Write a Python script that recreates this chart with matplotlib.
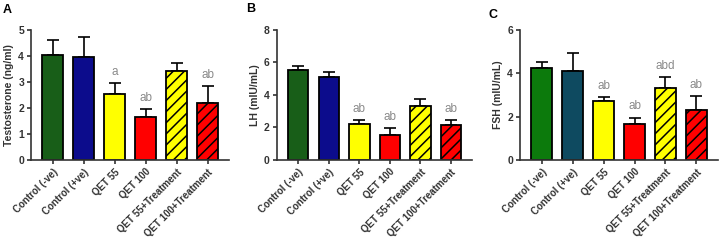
import matplotlib
matplotlib.use("Agg")
import matplotlib.pyplot as plt

plt.rcParams['font.family'] = ['Liberation Sans', 'DejaVu Sans']
plt.rcParams['hatch.linewidth'] = 1.1

groups = ["Control (-ve)", "Control (+ve)", "QET 55", "QET 100",
          "QET 55+Treatment", "QET 100+Treatment"]

testo_mean = [4.05, 3.96, 2.52, 1.67, 3.43, 2.19]
testo_err = [0.57, 0.78, 0.45, 0.28, 0.31, 0.64]
testo_sig = ["", "", "a", "ab", "", "ab"]

lh_mean = [5.52, 5.10, 2.22, 1.55, 3.35, 2.15]
lh_err = [0.24, 0.30, 0.25, 0.40, 0.40, 0.32]
lh_sig = ["", "", "ab", "ab", "", "ab"]

fsh_mean = [4.25, 4.12, 2.74, 1.67, 3.33, 2.31]
fsh_err = [0.25, 0.84, 0.15, 0.29, 0.50, 0.63]
fsh_sig = ["", "", "ab", "ab", "abd", "ab"]

colors_ab = ["#185e18", "#0c0c8c", "#ffff00", "#ff0000", "#ffff00", "#ff0000"]
colors_c = ["#0c7a0c", "#0e4a60", "#ffff00", "#ff0000", "#ffff00", "#ff0000"]
hatches = ["", "", "", "", "///", "///"]


def panel(ax, means, errs, sigs, colors, ylabel, ymax, step, letter, lx, ly):
    x = list(range(len(groups)))
    bars = ax.bar(x, means, width=0.67, color=colors, edgecolor="black",
                  linewidth=1.3, zorder=2)
    for b, h in zip(bars, hatches):
        b.set_hatch(h)
    ax.errorbar(x, means, yerr=[[0] * len(errs), errs], fmt="none",
                ecolor="black", elinewidth=1.2, capsize=4.5, capthick=1.2, zorder=1)
    for xi, m, e, s in zip(x, means, errs, sigs):
        if s:
            ax.text(xi, m + e + ymax * 0.04, s, ha="center", va="bottom",
                    fontsize=8.5, color="#8a8a8a")
    ax.set_xlim(-0.7, 5.68)
    ax.set_ylim(0, ymax)
    ax.set_yticks([i * step for i in range(int(ymax / step) + 1)])
    ax.set_xticks(x)
    ax.set_xticklabels(groups, rotation=45, ha="right", rotation_mode="anchor",
                       fontsize=7, fontweight="bold", color="#333333")
    for t in ax.get_yticklabels():
        t.set_fontweight("bold")
        t.set_fontsize(7.5)
        t.set_color("#333333")
    ax.set_ylabel(ylabel, fontsize=7.5, fontweight="bold", color="#333333", labelpad=3)
    for sp in ["top", "right"]:
        ax.spines[sp].set_visible(False)
    for sp in ["left", "bottom"]:
        ax.spines[sp].set_linewidth(1.2)
        ax.spines[sp].set_color("#333333")
    ax.tick_params(axis="both", length=3, width=1.2, color="#333333", pad=2)
    ax.figure.text(lx, ly, letter, fontsize=9, fontweight="bold", ha="left", va="center")


fig = plt.figure(figsize=(7.19, 2.42), dpi=100)
axA = fig.add_axes([0.0431, 0.339, 0.275, 0.537])
axB = fig.add_axes([0.385, 0.339, 0.271, 0.537])
axC = fig.add_axes([0.723, 0.339, 0.275, 0.537])

panel(axA, testo_mean, testo_err, testo_sig, colors_ab, "Testosterone (ng/ml)",
      5, 1, "A", 3 / 719, 1 - 10 / 242)
panel(axB, lh_mean, lh_err, lh_sig, colors_ab, "LH (mIU/mL)",
      8, 2, "B", 246 / 719, 1 - 9 / 242)
panel(axC, fsh_mean, fsh_err, fsh_sig, colors_c, "FSH (mIU/mL)",
      6, 2, "C", 489 / 719, 1 - 15 / 242)

fig.savefig("out.png", dpi=100)
